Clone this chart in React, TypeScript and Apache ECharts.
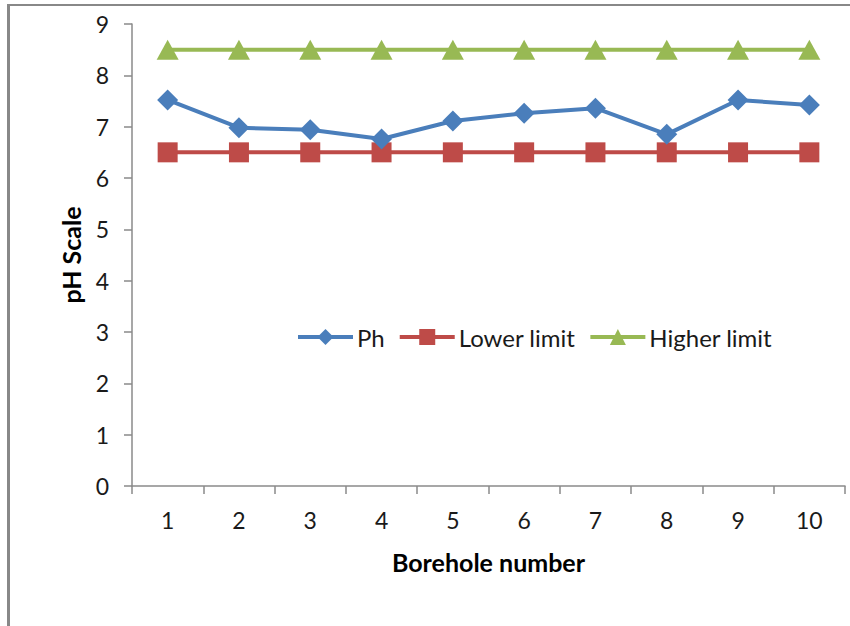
import React, { useEffect, useRef } from "react";
import * as echarts from "echarts";

const boreholes = ["1", "2", "3", "4", "5", "6", "7", "8", "9", "10"];
const phValues = [7.52, 6.98, 6.94, 6.76, 7.11, 7.26, 7.36, 6.85, 7.52, 7.42];
const lowerLimit = [6.5, 6.5, 6.5, 6.5, 6.5, 6.5, 6.5, 6.5, 6.5, 6.5];
const higherLimit = [8.5, 8.5, 8.5, 8.5, 8.5, 8.5, 8.5, 8.5, 8.5, 8.5];

const FONT = "Lato, 'Open Sans', sans-serif";
const AXIS_GRAY = "#8a8a8a";

export default function App() {
  const ref = useRef<HTMLDivElement>(null);

  useEffect(() => {
    if (!ref.current) return;
    const chart = echarts.init(ref.current, undefined, { renderer: "svg" });
    chart.setOption({
      animation: false,
      backgroundColor: "#ffffff",
      textStyle: { fontFamily: FONT },
      grid: { left: 132, right: 5, top: 24, bottom: 140 },
      graphic: [
        {
          type: "line",
          shape: { x1: 8, y1: 5, x2: 850, y2: 5 },
          style: { stroke: "#888888", lineWidth: 2 },
          silent: true,
        },
        {
          type: "line",
          shape: { x1: 8.5, y1: 4, x2: 8.5, y2: 626 },
          style: { stroke: "#888888", lineWidth: 3 },
          silent: true,
        },
      ],
      legend: {
        left: 291,
        top: 320,
        itemWidth: 55,
        itemHeight: 20,
        itemGap: 13,
        lineStyle: { width: 4 },
        textStyle: { fontFamily: FONT, fontSize: 24, color: "#1a1a1a", padding: [0, 0, 0, -1] },
        data: ["Ph", "Lower limit", "Higher limit"],
      },
      xAxis: {
        type: "category",
        data: boreholes,
        boundaryGap: true,
        name: "Borehole number",
        nameLocation: "middle",
        nameGap: 63,
        nameTextStyle: { fontFamily: FONT, fontSize: 25, fontWeight: "bold", color: "#000" },
        axisLine: { lineStyle: { color: AXIS_GRAY, width: 1.5 } },
        axisTick: { show: true, length: 8, lineStyle: { color: AXIS_GRAY, width: 1.5 } },
        axisLabel: { fontFamily: FONT, fontSize: 23, color: "#1a1a1a", margin: 22 },
        splitLine: { show: false },
      },
      yAxis: {
        type: "value",
        min: 0,
        max: 9,
        interval: 1,
        name: "pH Scale",
        nameLocation: "middle",
        nameGap: 49,
        nameTextStyle: { fontFamily: FONT, fontSize: 25, fontWeight: "bold", color: "#000" },
        axisLine: { show: true, lineStyle: { color: AXIS_GRAY, width: 1.5 } },
        axisTick: { show: true, length: 8, lineStyle: { color: AXIS_GRAY, width: 1.5 } },
        axisLabel: { fontFamily: FONT, fontSize: 23, color: "#1a1a1a", margin: 23 },
        splitLine: { show: false },
      },
      series: [
        {
          name: "Ph",
          type: "line",
          data: phValues,
          symbol: "diamond",
          symbolSize: 21,
          itemStyle: { color: "#4a7ebb" },
          lineStyle: { color: "#4a7ebb", width: 4 },
          z: 3,
        },
        {
          name: "Lower limit",
          type: "line",
          data: lowerLimit,
          symbol: "rect",
          symbolSize: 20,
          itemStyle: { color: "#be4b48" },
          lineStyle: { color: "#be4b48", width: 4 },
          z: 2,
        },
        {
          name: "Higher limit",
          type: "line",
          data: higherLimit,
          symbol: "triangle",
          symbolSize: [22, 20],
          itemStyle: { color: "#98b954" },
          lineStyle: { color: "#98b954", width: 4 },
          z: 2,
        },
      ],
    });
    return () => chart.dispose();
  }, []);

  return (
    <div
      ref={ref}
      style={{ position: "fixed", left: 0, top: 0, width: 850, height: 626, background: "#fff" }}
    />
  );
}
